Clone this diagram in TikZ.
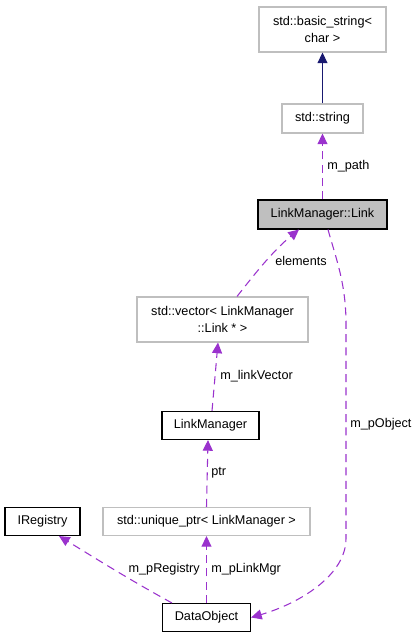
\documentclass[tikz,border=0pt]{standalone}
\usepackage{fontspec}
\setmainfont{Liberation Sans}
\usetikzlibrary{arrows.meta,calc}
\definecolor{edgepurple}{HTML}{9A32CD}
\definecolor{edgenavy}{HTML}{191970}
\definecolor{boxgray}{HTML}{BFBFBF}
\tikzset{
  cls/.style={draw=black, fill=white, line width=0.8pt, inner sep=0pt, align=center},
  ext/.style={draw=boxgray, fill=white, line width=0.8pt, inner sep=0pt, align=center},
  focus/.style={draw=black, fill=boxgray, line width=0.8pt, inner sep=0pt, align=center},
  use/.style={draw=edgepurple, dashed, dash pattern=on 6pt off 4pt, line width=0.8pt,
    -{Triangle[length=8pt,width=7.5pt]}},
  inh/.style={draw=edgenavy, line width=0.8pt, -{Triangle[length=8pt,width=7.5pt]}},
  lbl/.style={inner sep=0pt}
}
\begin{document}
\begin{tikzpicture}[x=0.75pt, y=-0.75pt, font=\fontsize{9.5}{12.7}\selectfont]
  \useasboundingbox (0,0) rectangle (420,637);
  \draw
    (322.5,29.5) node[ext, minimum width=95.25pt, minimum height=33.75pt] (basic){std::basic\_string<\\char >}
    (322.5,118.5) node[ext, minimum width=60.75pt, minimum height=21.75pt] (string){std::string}
    (322.5,214.5) node[focus, minimum width=96.75pt, minimum height=21.75pt] (link){LinkManager::Link}
    (222.5,319.5) node[ext, minimum width=128.25pt, minimum height=33.75pt] (vector){std::vector< LinkManager\\::Link * >}
    (210.5,425.5) node[cls, minimum width=72.75pt, minimum height=21pt] (manager){LinkManager}
    (42.5,521.5) node[cls, minimum width=56.25pt, minimum height=21pt] (registry){IRegistry}
    (206.5,521.5) node[ext, minimum width=155.25pt, minimum height=21pt] (uptr){std::unique\_ptr< LinkManager >}
    (206.5,617.5) node[cls, minimum width=66pt, minimum height=21pt] (dataobj){DataObject};
  \begin{scope}
    \draw[inh] (string.north) to (basic.south);
    \draw[use] (link.north) to (string.south);
    \draw[use] ($(vector.north)+(14.5,0)$) .. controls +(15,-19) and +(-27,22) .. ($(link.south)+(-23.5,0)$);
    \draw[use] ($(manager.north)+(1.5,0)$) to ($(vector.south)+(-4.5,0)$);
    \draw[use] (uptr.north) to ($(manager.south)+(-2.5,0)$);
    \draw[use] (dataobj.north) to (uptr.south);
    \draw[use] ($(dataobj.north west)+(10,0)$) .. controls +(-42,-23) and +(36,22) .. ($(registry.south)+(16.5,0)$);
    \draw[use] ($(link.south)+(5.5,0)$) .. controls +(8,29) and +(0,-40) .. ++(18,94)
      -- ++(0,215) .. controls +(0,37) and +(48,-14) .. (dataobj.east);
  \end{scope}
  \node[lbl, anchor=west] (pathlbl) at (327,166) {m\_path};
  \node[lbl, anchor=west] (elemlbl) at (275,261) {elements};
  \node[lbl, anchor=west] (veclbl) at (220,376) {m\_linkVector};
  \node[lbl, anchor=west] (objlbl) at (350,424) {m\_pObject};
  \node[lbl, anchor=west] (ptrlbl) at (211,473) {ptr};
  \node[lbl, anchor=east] (reglbl) at (200,569) {m\_pRegistry};
  \node[lbl, anchor=west] (mgrlbl) at (211,569) {m\_pLinkMgr};
\end{tikzpicture}
\end{document}
